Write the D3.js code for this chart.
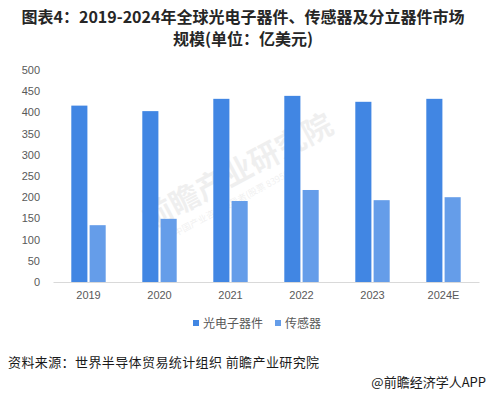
<!DOCTYPE html>
<html><head><meta charset="utf-8">
<script src="https://cdn.jsdelivr.net/npm/d3@7/dist/d3.min.js"></script>
<style>body{margin:0;background:#fff;}svg{display:block;font-family:"Microsoft YaHei","Noto Sans CJK SC",sans-serif;}</style>
</head><body>
<svg id="c" width="487" height="395"></svg>
<script>
const categories = ["2019","2020","2021","2022","2023","2024E"];
const seriesNames = ["光电子器件","传感器"];
const optoValues = [416, 403, 432, 439, 425, 432];
const sensorValues = [134, 149, 191, 217, 193, 200];
const yTicks = [0,50,100,150,200,250,300,350,400,450,500];
const colors = ["#4186E3","#659DE9"];

const svg = d3.select("#c");
const M = {left:53, right:479, top:70, bottom:282};

// title
svg.append("text").attr("x",243).attr("y",23).attr("text-anchor","middle")
  .attr("font-size",16).attr("font-weight","bold").attr("fill","#262626")
  .text("图表4：2019-2024年全球光电子器件、传感器及分立器件市场");
svg.append("text").attr("x",243).attr("y",45).attr("text-anchor","middle")
  .attr("font-size",16).attr("font-weight","bold").attr("fill","#262626")
  .text("规模(单位：亿美元)");

// watermark
const wm = svg.append("g").attr("transform","translate(150,230) rotate(-28)").attr("opacity",0.07);
wm.append("text").attr("x",0).attr("y",0).attr("font-size",30).attr("font-weight","bold").attr("fill","#333").text("前瞻产业研究院");
wm.append("text").attr("x",20).attr("y",18).attr("font-size",9).attr("fill","#333").text("中国产业咨询领导者(股票 839599)");

const x = d3.scaleBand().domain(categories).range([M.left, M.right]).paddingInner(0).paddingOuter(0);
const y = d3.scaleLinear().domain([0,500]).range([M.bottom, M.top]);
const xs = d3.scaleBand().domain(seriesNames).range([0, x.bandwidth()]).paddingInner(0.12).paddingOuter(1.0);

// y axis labels
const yAxis = d3.axisLeft(y).tickValues(yTicks).tickSize(0).tickPadding(0);
const yg = svg.append("g").attr("transform","translate(40,0)").call(yAxis);
yg.select(".domain").remove();
yg.selectAll("text").attr("font-size",11).attr("fill","#595959").attr("font-family","Arial, 'Liberation Sans', sans-serif");

// bars
const data = [optoValues, sensorValues];
seriesNames.forEach((s,i)=>{
  svg.append("g").selectAll("rect").data(categories).join("rect")
    .attr("x", c => x(c) + xs(s))
    .attr("width", xs.bandwidth())
    .attr("y", (c,j) => y(data[i][j]))
    .attr("height", (c,j) => y(0) - y(data[i][j]))
    .attr("fill", colors[i]);
});

// x axis
const xAxis = d3.axisBottom(x).tickSize(0).tickPadding(9);
const xg = svg.append("g").attr("transform",`translate(0,${M.bottom})`).call(xAxis);
xg.select(".domain").attr("stroke","#d9d9d9").attr("stroke-width",1);
xg.selectAll("text").attr("font-size",11).attr("fill","#595959").attr("font-family","Arial, 'Liberation Sans', sans-serif");

// legend
const legend = [{x:193, name:seriesNames[0], c:colors[0]},{x:275, name:seriesNames[1], c:colors[1]}];
legend.forEach(l=>{
  svg.append("rect").attr("x",l.x).attr("y",320).attr("width",6).attr("height",6).attr("fill",l.c);
  svg.append("text").attr("x",l.x+10).attr("y",327.5).attr("font-size",12).attr("fill","#595959").text(l.name);
});

// source
svg.append("text").attr("x",8).attr("y",367).attr("font-size",13).attr("letter-spacing",0.4).attr("fill","#1a1a1a")
  .text("资料来源：世界半导体贸易统计组织 前瞻产业研究院");
svg.append("text").attr("x",486).attr("y",387).attr("text-anchor","end").attr("font-size",13).attr("fill","#1a1a1a")
  .text("@前瞻经济学人APP");
</script>
</body></html>
